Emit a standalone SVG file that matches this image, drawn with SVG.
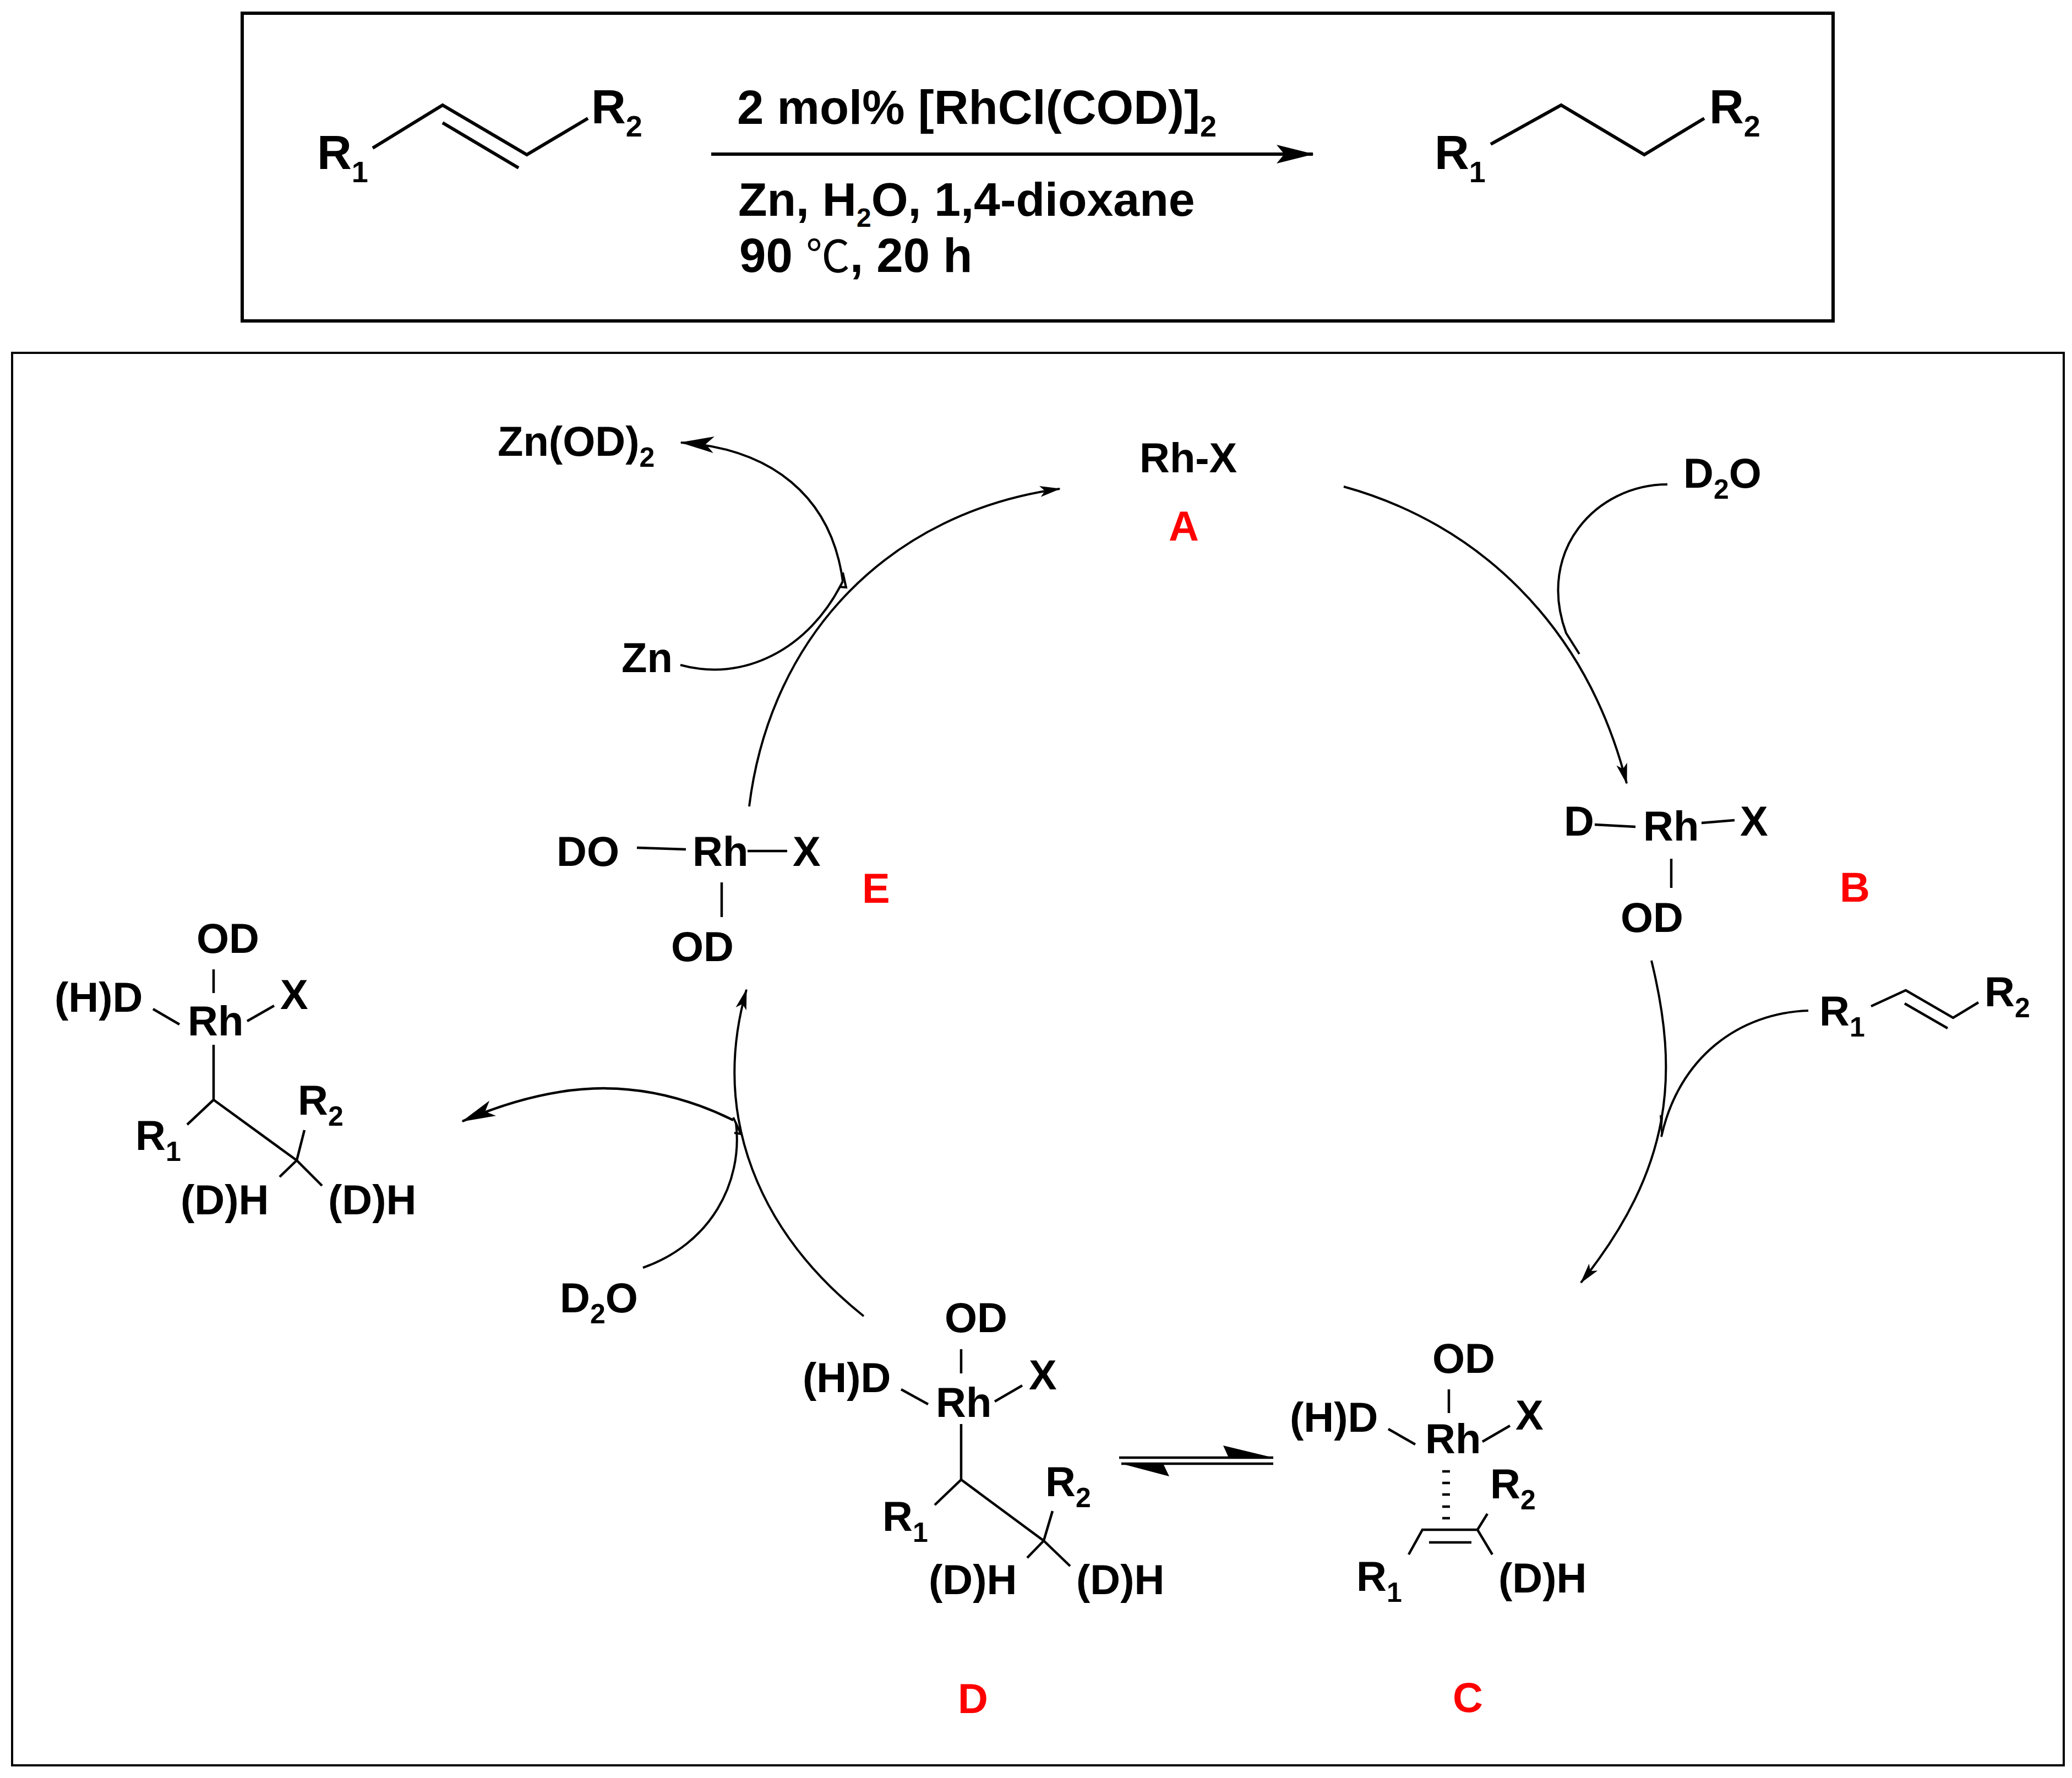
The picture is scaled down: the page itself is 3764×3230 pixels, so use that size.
<svg xmlns="http://www.w3.org/2000/svg" width="3764" height="3230" viewBox="0 0 3764 3230">
<style>
text{font-family:"Liberation Sans",Arial,sans-serif;font-weight:700;fill:#000}
.t{font-size:76px}
.h{font-size:87px}
.h2{font-size:86px}
.s{font-size:50px}
.hs{font-size:54px}
.hs2{font-size:48px}
.r{font-size:76px;fill:#f00}
.deg{font-family:"Noto Sans CJK SC",sans-serif;font-weight:400;font-size:80px}
.b{fill:none;stroke:#000;stroke-width:4.5}
.bt{fill:none;stroke:#000;stroke-width:6}
.a{fill:none;stroke:#000;stroke-width:4}
.box{fill:none;stroke:#000}
</style>
<defs>
<marker id="small" markerUnits="userSpaceOnUse" viewBox="0 0 38 22" refX="36" refY="11" markerWidth="38" markerHeight="22" orient="auto"><path d="M0 1 L38 11 L0 21 L9 11Z"/></marker>
<marker id="large" markerUnits="userSpaceOnUse" viewBox="0 0 62 32" refX="60" refY="16" markerWidth="62" markerHeight="32" orient="auto"><path d="M0 1 L62 16 L0 31 L15 16Z"/></marker>
<marker id="reaction" markerUnits="userSpaceOnUse" viewBox="0 0 68 36" refX="66" refY="18" markerWidth="68" markerHeight="36" orient="auto"><path d="M0 1 L68 18 L0 35 L14 18Z"/></marker>
</defs>
<rect width="3764" height="3230" fill="#fff"/>
<g id="frames">
<rect class="box" x="440" y="24" width="2890" height="559" stroke-width="6"/>
<rect class="box" x="22" y="641" width="3727" height="2566" stroke-width="4"/>
</g>
<g id="connectors">
<path class="bt" d="M1292 280 H2385" marker-end="url(#reaction)"/>
<path class="a" d="M2441 884 C2680 950 2880 1130 2955 1423" marker-end="url(#small)"/>
<path class="a" d="M3029 880 C2900 880 2790 1000 2845 1150 L2869 1188"/>
<path class="a" d="M3000 1745 C3050 1950 3040 2120 2872 2330" marker-end="url(#small)"/>
<path class="a" d="M3285 1836 C3160 1840 3050 1920 3018 2065"/>
<path d="M3015 2025 L3021 2030 L3018 2068Z"/>
<path class="a" d="M1569 2391 C1380 2240 1290 2030 1356 1798" marker-end="url(#small)"/>
<path class="a" d="M1168 2303 C1290 2260 1350 2150 1337 2040"/>
<path class="a" d="M1332 2030 L1346 2060 L1334 2058"/>
<path class="b" d="M1332 2035 C1180 1960 1030 1955 840 2037" marker-end="url(#large)"/>
<path class="a" d="M1361 1465 C1400 1150 1620 930 1925 888" marker-end="url(#small)"/>
<path class="a" d="M1236 1208 C1350 1240 1470 1180 1531 1056"/>
<path class="a" d="M1531 1040 L1537 1067 L1524 1066"/>
<path class="a" d="M1531 1056 C1510 900 1400 815 1237 804" marker-end="url(#large)"/>
<path class="b" d="M2033 2648 H2313 M2037 2659 H2313"/>
<path d="M2313 2648 L2222 2626 L2232 2648Z"/>
<path d="M2037 2659 L2124 2682 L2113 2659Z"/>
</g>
<g id="substrate">
<path class="bt" d="M677 269 L804 191 L957 281 L1068 215 M804 223 L942 305"/>
<text class="h" x="576" y="307">R<tspan class="hs" dy="24">1</tspan></text>
<text class="h" x="1074" y="224">R<tspan class="hs" dy="24">2</tspan></text>
</g>
<g id="conditions">
<text class="h" x="1339" y="225">2 mol% [RhCl(COD)]<tspan class="hs" dy="23">2</tspan></text>
<text class="h2" x="1341" y="392">Zn, H<tspan class="hs2" dy="20">2</tspan><tspan dy="-20">O, 1,4-dioxane</tspan></text>
<text class="h" x="1343" y="494">90 <tspan class="deg">℃</tspan>, 20 h</text>
</g>
<g id="product">
<path class="bt" d="M2708 262 L2836 191 L2987 281 L3096 215"/>
<text class="h" x="2606" y="307">R<tspan class="hs" dy="24">1</tspan></text>
<text class="h" x="3105" y="224">R<tspan class="hs" dy="24">2</tspan></text>
</g>
<g id="node-A">
<text class="t" x="2070" y="858">Rh-X</text>
<text class="r" x="2123" y="982">A</text>
</g>
<g id="node-B">
<path class="b" d="M2897 1498 L2971 1502 M3091 1495 L3151 1490 M3036 1560 V1613"/>
<text class="t" x="2841" y="1518">D</text>
<text class="t" x="2985" y="1527">Rh</text>
<text class="t" x="3161" y="1518">X</text>
<text class="t" x="2944" y="1693">OD</text>
<text class="r" x="3342" y="1638">B</text>
</g>
<g id="reagent-D2O-top">
<text class="t" x="3058" y="886">D<tspan class="s" dy="20">2</tspan><tspan dy="-20">O</tspan></text>
</g>
<g id="reagent-alkene">
<path class="b" d="M3399 1828 L3462 1799 L3548 1849 L3594 1821 M3460 1823 L3538 1868"/>
<text class="t" x="3305" y="1863">R<tspan class="s" dy="20">1</tspan></text>
<text class="t" x="3605" y="1828">R<tspan class="s" dy="20">2</tspan></text>
</g>
<g id="node-C">
<path class="b" d="M2632 2524 V2567 M2522 2596 L2571 2624 M2693 2619 L2743 2590 M2559 2824 L2584 2779 H2684 L2711 2824 M2684 2779 L2702 2750 M2596 2802 H2673"/>
<path class="b" d="M2620 2673 H2634 M2620 2694 H2634 M2620 2715 H2634 M2620 2737 H2634 M2620 2758 H2634"/>
<text class="t" x="2602" y="2494">OD</text>
<text class="t" x="2343" y="2601">(H)D</text>
<text class="t" x="2589" y="2640">Rh</text>
<text class="t" x="2753" y="2597">X</text>
<text class="t" x="2707" y="2722">R<tspan class="s" dy="20">2</tspan></text>
<text class="t" x="2464" y="2890">R<tspan class="s" dy="20">1</tspan></text>
<text class="t" x="2722" y="2893">(D)H</text>
<text class="r" x="2639" y="3110">C</text>
</g>
<g id="node-D">
<path class="b" d="M1746 2451 V2495 M1637 2524 L1686 2551 M1807 2546 L1857 2517 M1746 2587 V2688 L1698 2734 M1746 2688 L1896 2799 L1944 2845 M1896 2799 L1912 2745 M1896 2799 L1866 2830"/>
<text class="t" x="1716" y="2420">OD</text>
<text class="t" x="1458" y="2529">(H)D</text>
<text class="t" x="1700" y="2574">Rh</text>
<text class="t" x="1869" y="2524">X</text>
<text class="t" x="1899" y="2718">R<tspan class="s" dy="20">2</tspan></text>
<text class="t" x="1603" y="2781">R<tspan class="s" dy="20">1</tspan></text>
<text class="t" x="1687" y="2896">(D)H</text>
<text class="t" x="1955" y="2896">(D)H</text>
<text class="r" x="1740" y="3112">D</text>
</g>
<g id="node-E">
<path class="b" d="M1157 1540 L1246 1543 M1358 1546 H1430 M1311 1603 V1666"/>
<text class="t" x="1011" y="1573">DO</text>
<text class="t" x="1258" y="1573">Rh</text>
<text class="t" x="1440" y="1573">X</text>
<text class="t" x="1219" y="1746">OD</text>
<text class="r" x="1566" y="1640">E</text>
</g>
<g id="released-product">
<path class="b" d="M388 1761 V1804 M278 1833 L326 1861 M449 1855 L498 1827 M388 1898 V1998 L340 2043 M388 1998 L539 2108 L585 2154 M539 2108 L553 2053 M539 2108 L508 2138"/>
<text class="t" x="357" y="1731">OD</text>
<text class="t" x="99" y="1838">(H)D</text>
<text class="t" x="341" y="1881">Rh</text>
<text class="t" x="509" y="1833">X</text>
<text class="t" x="541" y="2025">R<tspan class="s" dy="20">2</tspan></text>
<text class="t" x="246" y="2089">R<tspan class="s" dy="20">1</tspan></text>
<text class="t" x="328" y="2206">(D)H</text>
<text class="t" x="596" y="2206">(D)H</text>
</g>
<g id="reagent-D2O-bottom">
<text class="t" x="1017" y="2384">D<tspan class="s" dy="20">2</tspan><tspan dy="-20">O</tspan></text>
</g>
<g id="reagent-Zn">
<text class="t" x="1129" y="1221">Zn</text>
</g>
<g id="byproduct-ZnOD2">
<text class="t" x="904" y="828">Zn(OD)<tspan class="s" dy="20">2</tspan></text>
</g>
</svg>
